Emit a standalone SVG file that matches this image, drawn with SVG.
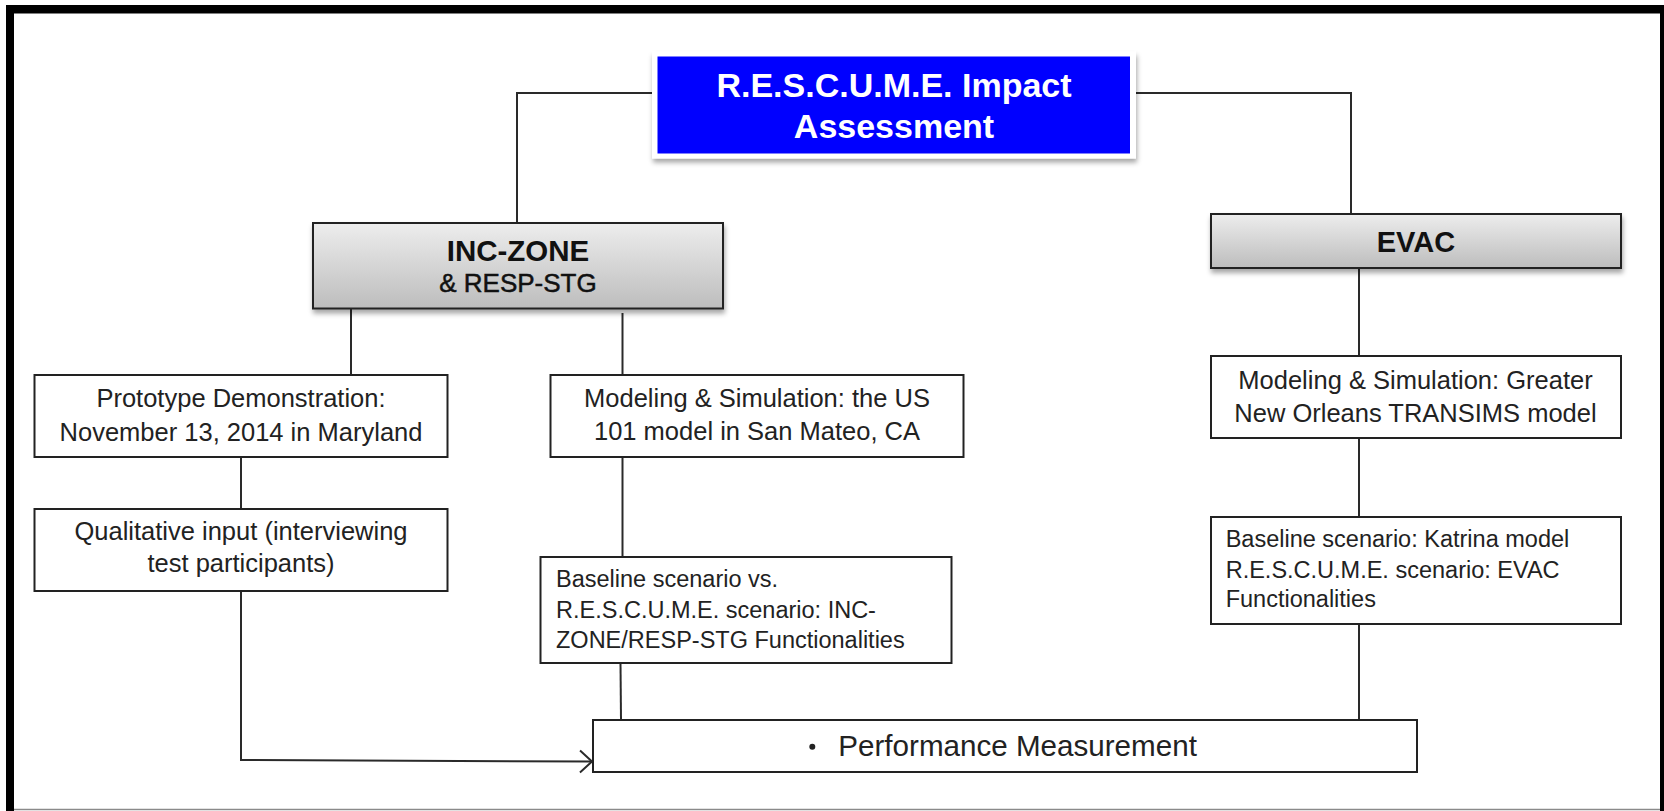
<svg xmlns="http://www.w3.org/2000/svg" width="1664" height="811" viewBox="0 0 1664 811">
  <style>
    .box { fill: #ffffff; stroke: #222222; stroke-width: 2; }
    .grey { fill: url(#greyGrad); stroke: #222222; stroke-width: 2; filter: url(#shadow); }
    .conn { fill: none; stroke: #2a2a2a; stroke-width: 2; }
    .txt { font-family: "Liberation Sans", Arial, sans-serif; fill: #222222; }
    .mid { text-anchor: middle; font-size: 25.5px; }
    .left { text-anchor: start; font-size: 23.5px; }
    .head { font-family: "Liberation Sans", Arial, sans-serif; font-weight: bold; fill: #111111; text-anchor: middle; }
    .semi { stroke: #111111; stroke-width: 0.5; }
  </style>
  <defs>
    <linearGradient id="greyGrad" x1="0" y1="0" x2="0" y2="1">
      <stop offset="0" stop-color="#ededed"/>
      <stop offset="1" stop-color="#bdbdbd"/>
    </linearGradient>
    <filter id="shadow" x="-5%" y="-20%" width="110%" height="150%">
      <feDropShadow dx="1" dy="4" stdDeviation="2.5" flood-color="#000000" flood-opacity="0.35"/>
    </filter>
    <marker id="chevron" markerUnits="userSpaceOnUse" markerWidth="16" markerHeight="26" refX="13" refY="12" orient="auto">
      <path d="M1,1 L13,12 L1,23" fill="none" stroke="#2a2a2a" stroke-width="2"/>
    </marker>
  </defs>

  <!-- page background and frame -->
  <rect x="0" y="0" width="1664" height="811" fill="#ffffff"/>
  <rect x="6" y="5" width="1658" height="8.5" fill="#000000"/>
  <rect x="6" y="5" width="8" height="806" fill="#000000"/>
  <rect x="1660" y="5" width="4" height="806" fill="#000000"/>
  <line x1="14" y1="809.5" x2="1660" y2="809.5" stroke="#8a8a8a" stroke-width="1.5"/>

  <!-- connectors -->
  <g id="connectors">
    <polyline class="conn" points="652,93 517,93 517,223"/>
    <polyline class="conn" points="1136,93 1351,93 1351,214"/>
    <line class="conn" x1="351" y1="309" x2="351" y2="375"/>
    <line class="conn" x1="622.5" y1="313" x2="622.5" y2="375"/>
    <line class="conn" x1="241" y1="457" x2="241" y2="509"/>
    <polyline class="conn" points="241,591 241,760 592,761.5" marker-end="url(#chevron)"/>
    <line class="conn" x1="622.5" y1="457" x2="622.5" y2="557"/>
    <line class="conn" x1="620.5" y1="663" x2="621" y2="720"/>
    <line class="conn" x1="1359" y1="268" x2="1359" y2="356"/>
    <line class="conn" x1="1359" y1="438" x2="1359" y2="517"/>
    <line class="conn" x1="1359" y1="624" x2="1359" y2="720"/>
  </g>

  <!-- top node -->
  <g id="impact-assessment">
    <rect x="652" y="51.5" width="484" height="107" fill="#ffffff" filter="url(#shadow)"/>
    <rect x="657.5" y="56.5" width="472.5" height="97" fill="#0000ff"/>
    <text class="head" x="894" y="96.5" font-size="34" style="fill:#ffffff">R.E.S.C.U.M.E. Impact</text>
    <text class="head" x="894" y="137.5" font-size="34" style="fill:#ffffff">Assessment</text>
  </g>

  <!-- second level -->
  <g id="inc-zone">
    <rect class="grey" x="313" y="223" width="410" height="85.5"/>
    <text class="head" x="518" y="261" font-size="29.5">INC-ZONE</text>
    <text class="txt semi" x="518" y="292.3" font-size="26" text-anchor="middle" style="fill:#111111">&amp; RESP-STG</text>
  </g>
  <g id="evac">
    <rect class="grey" x="1211" y="214" width="410" height="54"/>
    <text class="head" x="1416" y="252.3" font-size="29">EVAC</text>
  </g>

  <!-- INC-ZONE branch -->
  <g id="prototype-demo">
    <rect class="box" x="34.5" y="375" width="413" height="82"/>
    <text class="txt mid" x="241" y="406.7">Prototype Demonstration:</text>
    <text class="txt mid" x="241" y="440.7">November 13, 2014 in Maryland</text>
  </g>
  <g id="qualitative-input">
    <rect class="box" x="34.5" y="509" width="413" height="82"/>
    <text class="txt mid" x="241" y="540">Qualitative input (interviewing</text>
    <text class="txt mid" x="241" y="572">test participants)</text>
  </g>
  <g id="modeling-us101">
    <rect class="box" x="550.5" y="375" width="413" height="82"/>
    <text class="txt mid" x="757" y="407">Modeling &amp; Simulation: the US</text>
    <text class="txt mid" x="757" y="440">101 model in San Mateo, CA</text>
  </g>
  <g id="baseline-inc">
    <rect class="box" x="540.5" y="557" width="411" height="106"/>
    <text class="txt left" x="556" y="587">Baseline scenario vs.</text>
    <text class="txt left" x="556" y="618">R.E.S.C.U.M.E. scenario: INC-</text>
    <text class="txt left" x="556" y="647.5">ZONE/RESP-STG Functionalities</text>
  </g>

  <!-- EVAC branch -->
  <g id="modeling-new-orleans">
    <rect class="box" x="1211" y="356" width="410" height="82"/>
    <text class="txt mid" x="1415.5" y="389">Modeling &amp; Simulation: Greater</text>
    <text class="txt mid" x="1415.5" y="421.7">New Orleans TRANSIMS model</text>
  </g>
  <g id="baseline-evac">
    <rect class="box" x="1211" y="517" width="410" height="107"/>
    <text class="txt left" x="1225.7" y="546.7">Baseline scenario: Katrina model</text>
    <text class="txt left" x="1225.7" y="577.5">R.E.S.C.U.M.E. scenario: EVAC</text>
    <text class="txt left" x="1225.7" y="606.7">Functionalities</text>
  </g>

  <!-- result node -->
  <g id="performance-measurement">
    <rect class="box" x="593" y="720" width="824" height="52"/>
    <circle cx="812.3" cy="746.7" r="3" fill="#222222"/>
    <text class="txt" x="838.3" y="756" font-size="29.6">Performance Measurement</text>
  </g>
</svg>
